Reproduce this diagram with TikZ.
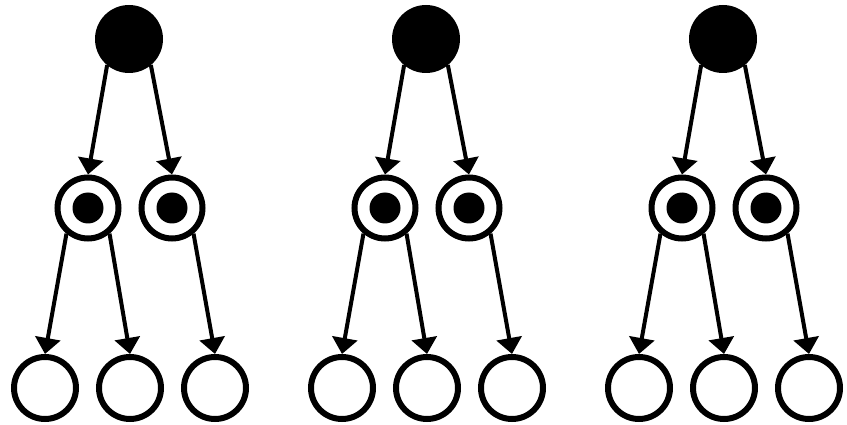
\documentclass[tikz,border=0pt]{standalone}
\usetikzlibrary{arrows.meta}
\begin{document}
\begin{tikzpicture}[x=1pt, y=-1pt, >={Triangle[width=25pt,length=16pt]},
    rootnode/.style={circle, fill=black, inner sep=0pt, outer sep=0pt, minimum size=68pt},
    midnode/.style={circle, draw=black, fill=white, line width=6pt, inner sep=0pt, minimum size=61pt,
        path picture={\fill[black] (path picture bounding box.center) circle (15.5pt);}},
    leafnode/.style={circle, draw=black, fill=white, line width=6pt, inner sep=0pt, minimum size=62pt},
    edge/.style={->, line width=4pt}]
    \useasboundingbox (0,0) rectangle (847,425);

    % 1. Ba cây giống nhau, mỗi cây dời sang phải 297pt
    \foreach \t/\ox in {a/0, b/297, c/594} {
        % Gốc (đen), hai nút giữa (có chấm), ba lá (trắng)
        \node[rootnode] (\t-r) at (129+\ox, 39) {};
        \node[midnode] (\t-m1) at (88+\ox, 208) {};
        \node[midnode] (\t-m2) at (172+\ox, 208) {};
        \node[leafnode] (\t-l1) at (45+\ox, 388) {};
        \node[leafnode] (\t-l2) at (130+\ox, 388) {};
        \node[leafnode] (\t-l3) at (215+\ox, 388) {};

        % 2. Các mũi tên
        \draw[edge] (\t-r.230) -- (\t-m1.north);
        \draw[edge] (\t-r.310) -- (\t-m2.north);
        \draw[edge] (\t-m1.230) -- (\t-l1.north);
        \draw[edge] (\t-m1.310) -- (\t-l2.north);
        \draw[edge] (\t-m2.310) -- (\t-l3.north);
    }

\end{tikzpicture}
\end{document}
